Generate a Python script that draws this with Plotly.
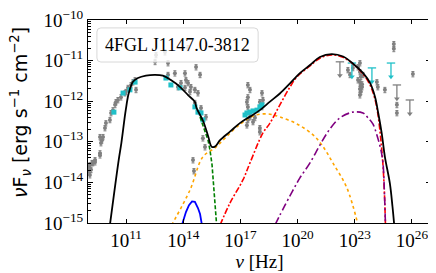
import plotly.graph_objects as go
import numpy as np

# ---- model curves (log10 nu [Hz], log10 nuFnu [erg s^-1 cm^-2]) ----
total_lognu = [10.15, 10.61, 10.75, 10.98, 11.14, 11.36, 11.62, 12.04, 12.50, 12.93, 13.35, 13.81,
               14.25, 14.60, 14.70, 15.05, 15.31, 15.49, 15.66, 15.93, 16.45, 16.97, 17.50, 18.02,
               18.55, 19.07, 19.60, 20.12, 20.65, 21.17, 21.79, 22.39, 22.90, 23.44, 23.80, 24.06,
               24.23, 24.41, 24.58, 24.84, 24.98, 25.07]
total_logflux = [-15.05, -13.45, -13.03, -12.22, -11.80, -11.52, -11.43, -11.37, -11.35, -11.37, -11.48, -11.64,
                 -11.85, -12.01, -12.17, -12.50, -12.87, -13.12, -13.12, -12.96, -12.75, -12.54, -12.38, -12.22,
                 -12.01, -11.81, -11.56, -11.31, -11.11, -10.91, -10.84, -10.90, -11.07, -11.31, -11.55, -11.89,
                 -12.29, -12.78, -13.37, -14.02, -14.60, -15.05]

disk_lognu = [13.93, 14.14, 14.30, 14.46, 14.61, 14.77, 14.88, 14.98]
disk_logflux = [-15.05, -14.73, -14.56, -14.47, -14.48, -14.63, -14.78, -15.05]

ssc_lognu = [13.39, 14.35, 15.03, 15.66, 16.19, 16.97, 17.81, 18.55, 19.07, 19.97, 20.81, 21.28,
             21.85, 22.59, 23.17]
ssc_logflux = [-15.05, -14.19, -13.37, -13.15, -12.91, -12.57, -12.34, -12.32, -12.39, -12.56, -12.83, -13.08,
               -13.52, -14.14, -15.05]

sync_lognu = [14.88, 15.03, 15.19, 15.30, 15.40, 15.51, 15.57, 15.66, 15.75]
sync_logflux = [-12.39, -12.59, -12.78, -12.96, -13.20, -13.57, -13.94, -14.43, -15.05]

ecblr_lognu = [15.93, 16.45, 17.13, 17.50, 18.18, 18.55, 19.07, 19.60, 19.97, 20.65, 21.17, 21.80,
               22.38, 22.90, 23.43, 23.80, 24.06, 24.22, 24.37, 24.48, 24.56, 24.61]
ecblr_logflux = [-15.05, -14.51, -13.94, -13.52, -12.78, -12.54, -12.09, -11.65, -11.40, -11.13, -10.94, -10.86,
                 -10.92, -11.08, -11.33, -11.60, -11.95, -12.34, -12.96, -13.57, -14.31, -15.05]

ecdt_lognu = [18.81, 19.34, 19.76, 20.12, 20.65, 21.17, 21.70, 22.22, 22.90, 23.43, 23.69, 23.95,
              24.16, 24.37, 24.48, 24.56, 24.61]
ecdt_logflux = [-15.05, -14.56, -14.19, -13.89, -13.52, -13.08, -12.68, -12.41, -12.27, -12.29, -12.41, -12.56,
                -12.83, -13.20, -13.52, -14.31, -15.05]

# ---- archival data (gray) ----
arch_lognu = [9.00, 9.05, 9.10, 9.10, 9.16, 9.21, 9.26, 9.37, 9.37, 9.63, 9.63, 9.68, 9.73, 9.63, 9.79,
              9.89, 9.94, 10.15, 10.21, 10.31, 10.42, 10.47, 10.57, 10.73, 10.94, 10.99, 11.10, 11.26,
              11.36, 11.47, 11.52,
              13.20, 13.56, 14.09, 14.14, 13.88, 14.25, 14.40, 14.61, 14.67, 13.72, 14.09, 14.35, 14.77,
              14.61, 14.93, 15.19,
              12.57, 13.04, 13.20, 12.52, 14.25,
              14.51, 14.56, 15.03, 15.14, 14.88,
              17.39, 17.50, 17.39, 17.34, 17.39, 18.13, 18.02, 18.18, 18.13, 17.50, 17.76, 17.66, 17.39,
              18.02, 18.02, 17.34,
              22.64, 22.75, 22.90, 23.17, 23.27, 23.32, 23.27, 23.38, 23.32, 23.27, 23.43, 23.17,
              23.27, 23.32, 23.27, 23.38,
              24.16, 24.21, 24.58, 25.05, 25.05, 26.05, 25.21, 25.21]
arch_logflux = [-13.74, -13.62, -13.57, -13.82, -13.69, -13.52, -13.52, -13.45, -13.50, -13.33, -13.28,
                -13.03, -12.96, -12.88, -12.88, -12.66, -12.54, -12.46, -12.29, -12.22, -12.09, -12.02,
                -11.97, -11.90, -11.80, -11.77, -11.67, -11.60, -11.53, -11.48, -11.72,
                -11.35, -11.31, -11.31, -11.48, -11.55, -11.55, -11.65, -11.72, -11.16, -11.65, -11.67,
                -11.77, -11.80, -12.04, -12.17, -12.39,
                -10.86, -10.79, -11.06, -11.03, -10.69,
                -13.45, -13.72, -12.91, -13.13, -11.35,
                -11.60, -11.72, -11.90, -12.02, -12.14, -11.80, -12.02, -11.97, -12.14, -12.39, -12.41,
                -12.51, -12.46, -12.66, -12.76, -12.59,
                -11.23, -11.35, -11.18, -11.16, -11.28, -11.40, -11.53, -11.65, -11.77, -11.85, -11.35, -11.48,
                -11.06, -11.62, -11.70, -11.58,
                -11.53, -11.65, -11.72, -10.59, -10.71, -11.33, -12.09, -12.29]

# ---- simultaneous data (cyan) ----
simul_lognu = [10.36, 10.84, 11.20, 11.47, 13.09, 13.35, 13.83, 14.61, 14.77, 14.93, 15.03,
               17.24, 17.34, 17.50, 17.66, 17.87, 18.02, 18.13]
simul_logflux = [-12.27, -11.80, -11.72, -11.53, -11.43, -11.60, -11.67, -12.14, -12.27, -12.29, -12.46,
                 -12.34, -12.29, -12.27, -12.24, -12.22, -12.14, -12.09]

# ---- upper limits ----
arch_ul_lognu = [22.22, 25.21, 25.89]
arch_ul_logflux = [-11.03, -11.60, -11.97]
simul_ul_lognu = [22.85, 23.90, 24.90]
simul_ul_logflux = [-11.06, -11.18, -11.06]

source_name = "4FGL J1147.0-3812"
x_title = "<i>ν</i> [Hz]"
y_title = "<i>ν</i>F<sub><i>ν</i></sub> [erg s<sup>−1</sup> cm<sup>−2</sup>]"

p = lambda a: [10.0 ** v for v in a]
ARROW = 0.34
SERIF = "Liberation Serif"

fig = go.Figure()

# archival points
fig.add_trace(go.Scatter(
    x=p(arch_lognu), y=p(arch_logflux), mode="markers",
    marker=dict(color="gray", size=4, symbol="circle"),
    error_y=dict(type="percent", value=15, color="gray", thickness=1, width=1.5),
    showlegend=False))

# simultaneous points
fig.add_trace(go.Scatter(
    x=p(simul_lognu), y=p(simul_logflux), mode="markers",
    marker=dict(color="#20c0c8", size=5, symbol="square"),
    showlegend=False))

# upper limits
for lx, ly, col in [(arch_ul_lognu, arch_ul_logflux, "gray"), (simul_ul_lognu, simul_ul_logflux, "#20c0c8")]:
    top = p(ly)
    bot = [10.0 ** (v - ARROW) for v in ly]
    fig.add_trace(go.Scatter(
        x=p(lx), y=top, mode="markers",
        marker=dict(color=col, size=6, symbol="line-ew", line=dict(color=col, width=1.3)),
        error_y=dict(type="data", symmetric=False, array=[0] * len(top),
                     arrayminus=[t - b for t, b in zip(top, bot)],
                     color=col, thickness=1.3, width=0),
        showlegend=False))
    fig.add_trace(go.Scatter(
        x=p(lx), y=bot, mode="markers",
        marker=dict(color=col, size=5, symbol="triangle-down"),
        showlegend=False))

# model components
fig.add_trace(go.Scatter(x=p(disk_lognu), y=p(disk_logflux), mode="lines",
                         line=dict(color="blue", width=1.8), showlegend=False))
fig.add_trace(go.Scatter(x=p(ssc_lognu), y=p(ssc_logflux), mode="lines",
                         line=dict(color="orange", width=1.6, dash="dot", shape="spline"), showlegend=False))
fig.add_trace(go.Scatter(x=p(sync_lognu), y=p(sync_logflux), mode="lines",
                         line=dict(color="green", width=1.6, dash="4px,2px"), showlegend=False))
fig.add_trace(go.Scatter(x=p(ecblr_lognu), y=p(ecblr_logflux), mode="lines",
                         line=dict(color="red", width=1.6, dash="6px,2px,2px,2px", shape="spline"),
                         showlegend=False))
fig.add_trace(go.Scatter(x=p(ecdt_lognu), y=p(ecdt_logflux), mode="lines",
                         line=dict(color="purple", width=1.6, dash="8px,3px,2px,3px", shape="spline"),
                         showlegend=False))
fig.add_trace(go.Scatter(x=p(total_lognu), y=p(total_logflux), mode="lines",
                         line=dict(color="black", width=1.8, shape="spline"), showlegend=False))

ytick_exp = [-15, -14, -13, -12, -11, -10]
xtick_exp = [11, 14, 17, 20, 23, 26]
yminor = [m * 10.0 ** e for e in range(-15, -10) for m in range(2, 10)]

tickfont = dict(family=SERIF, size=19, color="black")

fig.update_xaxes(
    type="log", range=[9, 27], automargin=False, ticklabeloverflow="allow",
    tickvals=[10.0 ** e for e in xtick_exp],
    ticktext=[f"10<sup>{e}</sup>" for e in xtick_exp],
    ticks="inside", ticklen=4, tickwidth=1, tickcolor="black",
    showline=True, linecolor="black", linewidth=1, mirror="ticks",
    showgrid=False, zeroline=False, tickfont=tickfont,
    title=dict(text=x_title, font=dict(family=SERIF, size=19, color="black"), standoff=0))
fig.update_yaxes(
    type="log", range=[-15, -10], automargin=False, ticklabeloverflow="allow",
    tickvals=[10.0 ** e for e in ytick_exp],
    ticktext=[f"10<sup>{'−' + str(-e)}</sup>" for e in ytick_exp],
    ticks="inside", ticklen=5, tickwidth=1, tickcolor="black",
    minor=dict(tickvals=yminor, ticks="inside", ticklen=2.5, tickcolor="black", showgrid=False),
    showline=True, linecolor="black", linewidth=1, mirror="ticks",
    showgrid=False, zeroline=False, tickfont=tickfont)

# y-axis title placed explicitly (centred a little above the plot centre, as in the original)
fig.add_annotation(x=-0.195, y=0.542, xref="paper", yref="paper", text=y_title, showarrow=False,
                   textangle=-90, xanchor="center", yanchor="middle",
                   font=dict(family="DejaVu Sans", size=19, color="black"))

# legend-like rounded box
x0, x1, y0, y1 = 0.026, 0.496, 0.793, 0.961
rx, ry = 4 / 343, 4 / 203
path = (f"M {x0+rx},{y0} L {x1-rx},{y0} Q {x1},{y0} {x1},{y0+ry} L {x1},{y1-ry} Q {x1},{y1} {x1-rx},{y1} "
        f"L {x0+rx},{y1} Q {x0},{y1} {x0},{y1-ry} L {x0},{y0+ry} Q {x0},{y0} {x0+rx},{y0} Z")
fig.add_shape(type="path", xref="paper", yref="paper", path=path,
              fillcolor="rgba(255,255,255,0.8)", line=dict(color="#d8d8d8", width=1), layer="above")
fig.add_annotation(x=0.261, y=0.877, xref="paper", yref="paper", text=source_name, showarrow=False,
                   xanchor="center", yanchor="middle",
                   font=dict(family=SERIF, size=18, color="black"))

# page body has an 8px default margin: size/margins chosen so the plot area lands at x 88-431, y 20-223
fig.update_layout(
    width=428, height=265,
    margin=dict(l=80, r=5, t=12, b=50),
    paper_bgcolor="white", plot_bgcolor="white",
    showlegend=False)

fig.write_html("out.html")
